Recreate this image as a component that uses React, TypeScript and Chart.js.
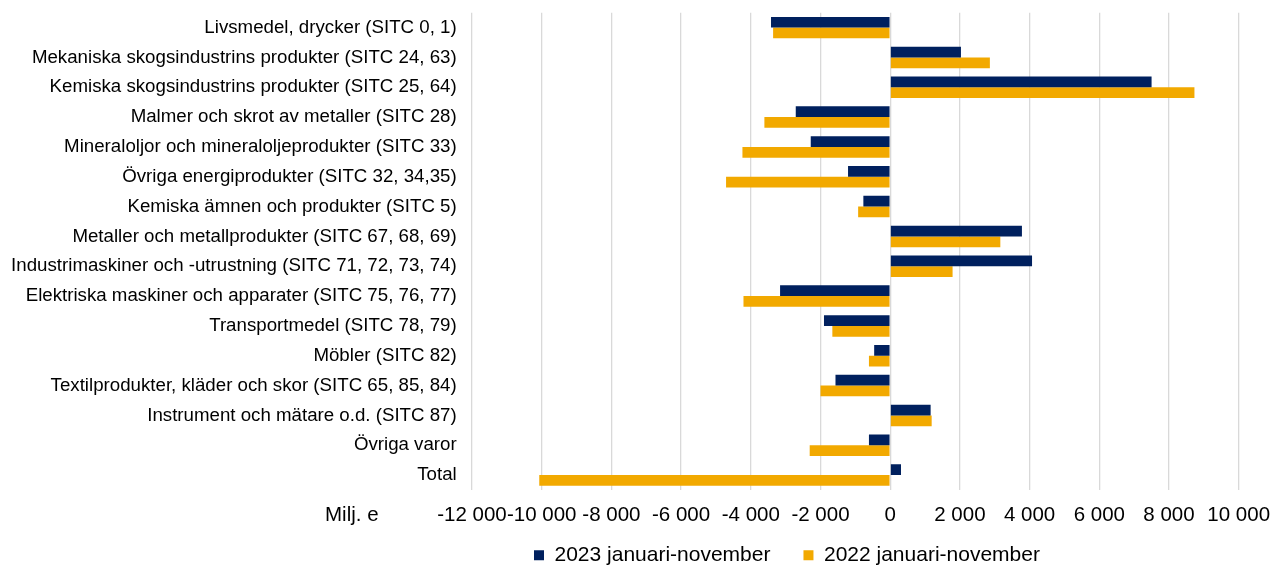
import React, { useEffect, useRef } from "react";
import { Chart, registerables } from "chart.js";

Chart.register(...registerables);

const categories = [
  "Livsmedel, drycker (SITC 0, 1)",
  "Mekaniska skogsindustrins produkter (SITC 24, 63)",
  "Kemiska skogsindustrins produkter (SITC 25, 64)",
  "Malmer och skrot av metaller (SITC 28)",
  "Mineraloljor och mineraloljeprodukter (SITC 33)",
  "Övriga energiprodukter (SITC 32, 34,35)",
  "Kemiska ämnen och produkter (SITC 5)",
  "Metaller och metallprodukter (SITC 67, 68, 69)",
  "Industrimaskiner och -utrustning (SITC 71, 72, 73, 74)",
  "Elektriska maskiner och apparater (SITC 75, 76, 77)",
  "Transportmedel (SITC 78, 79)",
  "Möbler (SITC 82)",
  "Textilprodukter, kläder och skor (SITC 65, 85, 84)",
  "Instrument och mätare o.d. (SITC 87)",
  "Övriga varor",
  "Total",
];

const series2023Label = "2023 januari-november";
const series2022Label = "2022 januari-november";

const values2023 = [-3420, 2030, 7500, -2710, -2280, -1210, -770, 3780, 4070, -3160, -1900, -460, -1570, 1160, -610, 310];
const values2022 = [-3360, 2860, 8730, -3610, -4240, -4710, -920, 3160, 1790, -4210, -1660, -610, -2000, 1190, -2310, -10070];

const xTickValues = [-12000, -10000, -8000, -6000, -4000, -2000, 0, 2000, 4000, 6000, 8000, 10000];
const unitLabel = "Milj. e";

const FONT = '"Liberation Sans", Arial, sans-serif';
const NAVY = "#00205E";
const GOLD = "#F2A900";
const LEGEND_SIZE = 21;

function formatTick(v: number): string {
  const sign = v < 0 ? "-" : "";
  const s = Math.abs(Math.round(v)).toString();
  return sign + s.replace(/\B(?=(\d{3})+(?!\d))/g, " ");
}

export default function App() {
  const ref = useRef<HTMLCanvasElement | null>(null);

  useEffect(() => {
    document.body.style.margin = "0";
    const canvas = ref.current;
    if (!canvas) return;

    const legendPlacer = {
      id: "legendPlacer",
      afterLayout(chart: any) {
        const lg = chart.legend;
        if (!lg) return;
        const pad = lg.options.labels.padding;
        const w = lg.width;
        lg.left = 534 - pad;
        lg.right = lg.left + w;
        lg.top = 555.3 - LEGEND_SIZE / 2 - pad;
        lg.bottom = chart.height;
        lg.height = lg.bottom - lg.top;
      },
    };

    const unitText = {
      id: "unitText",
      afterDraw(chart: any) {
        const ctx = chart.ctx;
        const xs = chart.scales.x;
        ctx.save();
        ctx.font = `20.5px ${FONT}`;
        ctx.fillStyle = "#000";
        ctx.textBaseline = "middle";
        ctx.textAlign = "left";
        ctx.fillText(unitLabel, 325, xs.top + 12.7 + 12.3);
        ctx.restore();
      },
    };

    const chart = new Chart(canvas, {
      type: "bar",
      data: {
        labels: categories,
        datasets: [
          {
            label: series2023Label,
            data: values2023,
            backgroundColor: NAVY,
            borderWidth: 0,
            categoryPercentage: 0.72,
            barPercentage: 1.0,
          },
          {
            label: series2022Label,
            data: values2022,
            backgroundColor: GOLD,
            borderWidth: 0,
            categoryPercentage: 0.72,
            barPercentage: 1.0,
          },
        ],
      },
      options: {
        indexAxis: "y",
        animation: false,
        responsive: false,
        layout: { padding: { top: 12.7, right: 33.3, left: 0, bottom: 0 } },
        plugins: {
          tooltip: { enabled: false },
          legend: {
            position: "bottom",
            align: "start",
            maxHeight: 35,
            labels: {
              boxWidth: 10,
              boxHeight: 10,
              padding: 33,
              color: "#000",
              font: { family: FONT, size: LEGEND_SIZE },
            },
          },
        },
        scales: {
          x: {
            type: "linear",
            min: -12000,
            max: 10000,
            afterBuildTicks(scale: any) {
              scale.ticks = xTickValues.map((v) => ({ value: v }));
            },
            afterFit(scale: any) {
              scale.height = 40;
              scale.paddingLeft = 0;
              scale.paddingRight = 0;
            },
            grid: {
              color: "#d9d9d9",
              lineWidth: 1.3,
              drawTicks: false,
            },
            border: { display: false },
            ticks: {
              padding: 12.7,
              color: "#000",
              font: { family: FONT, size: 20.5 },
              maxRotation: 0,
              autoSkip: false,
              callback: (v: any) => formatTick(Number(v)),
            },
          },
          y: {
            type: "category",
            afterFit(scale: any) {
              scale.width = 472;
              scale.paddingTop = 0;
              scale.paddingBottom = 0;
            },
            grid: { display: false, drawTicks: false },
            border: { display: false },
            ticks: {
              padding: 15.3,
              color: "#000",
              autoSkip: false,
              font: { family: FONT, size: 18.7 },
            },
          },
        },
      },
      plugins: [legendPlacer, unitText],
    });

    return () => chart.destroy();
  }, []);

  return (
    <canvas
      ref={ref}
      width={1272}
      height={565}
      style={{ position: "absolute", left: 0, top: 0, display: "block", width: 1272, height: 565 }}
    />
  );
}
